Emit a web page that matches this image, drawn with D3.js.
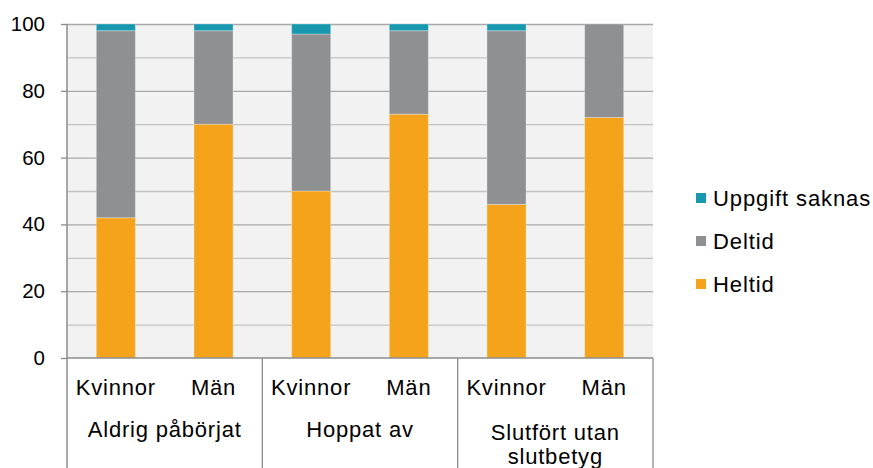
<!DOCTYPE html>
<html>
  <head>
    <meta charset="UTF-8">
    <script src="https://d3js.org/d3.v7.min.js"></script>
    <style>
      body { margin: 0; background: #fff; }
      svg text { font-family: "Liberation Sans", Arial, sans-serif; fill: #000; }
      .gridlines .domain { stroke: none; }
      .gridlines line { stroke: #c3c3c3; stroke-width: 1.3; }
      .gridlines line.major { stroke: #a9a9a9; }
      .y.axis .domain { stroke: none; }
      .y.axis line { stroke: #8c8c8c; stroke-width: 1.3; }
      .y.axis text { font-size: 20.5px; }
      .cat text { font-size: 22px; letter-spacing: 0.8px; }
      .legend text { font-size: 22px; letter-spacing: 0.9px; }
    </style>
    <title>Heltid / deltid</title>
  </head>
  <body>
    <svg id="chart" width="873" height="468"></svg>
    <script>
      // data (percent)
      const groups = ["Aldrig påbörjat", "Hoppat av", "Slutfört utan slutbetyg"];
      const groupLines = [["Aldrig påbörjat"], ["Hoppat av"], ["Slutfört utan", "slutbetyg"]];
      const genders = ["Kvinnor", "Män"];
      const heltid  = [42, 70, 50, 73, 46, 72];
      const deltid  = [56, 28, 47, 25, 52, 28];
      const uppgift = [2, 2, 3, 2, 2, 0];
      const seriesKeys = ["Heltid", "Deltid", "Uppgift saknas"];
      const seriesColors = ["#f5a31a", "#8f9092", "#1798ae"];
      const legendOrder = ["Uppgift saknas", "Deltid", "Heltid"];
      const yTicks = [0, 20, 40, 60, 80, 100];

      const svg = d3.select("svg#chart");
      const margin = { "top": 24, "right": 220, "bottom": 110, "left": 67 };
      const width = +svg.attr("width");
      const height = +svg.attr("height");
      const chartWidth = width - margin.left - margin.right;
      const chartHeight = height - margin.top - margin.bottom;

      let rows = [];
      groups.forEach((g, gi) => {
        genders.forEach((s, si) => {
          let i = gi * genders.length + si;
          rows.push({ group: g, gender: s, "Heltid": heltid[i], "Deltid": deltid[i], "Uppgift saknas": uppgift[i] });
        });
      });

      const yScale = d3.scaleLinear().domain([0, 100]).range([chartHeight, 0]);
      const groupScale = d3.scaleBand().domain(groups).range([0, chartWidth]);
      const genderScale = d3.scaleBand().domain(genders).range([0, groupScale.bandwidth()])
                            .paddingInner(0.6).paddingOuter(0.3);
      const colorScale = d3.scaleOrdinal().domain(seriesKeys).range(seriesColors);

      let plot = svg.append("g")
                    .attr("transform", "translate(" + margin.left + "," + margin.top + ")");

      plot.append("rect")
          .attr("width", chartWidth)
          .attr("height", chartHeight)
          .attr("fill", "#f2f2f2");

      // gridlines every 10, darker at the labelled ones
      let grid = d3.axisLeft(yScale).tickValues(d3.range(10, 101, 10)).tickFormat("").tickSize(-chartWidth);
      plot.append("g")
          .attr("class", "gridlines")
          .call(grid)
          .selectAll(".tick line")
          .classed("major", d => d % 20 == 0);

      // bars
      const stacked = d3.stack().keys(seriesKeys)(rows);
      plot.selectAll("g.series").data(stacked)
          .join("g")
          .attr("class", "series")
          .attr("fill", d => colorScale(d.key))
          .selectAll("rect")
          .data(d => d)
          .join("rect")
          .attr("x", d => groupScale(d.data.group) + genderScale(d.data.gender))
          .attr("width", genderScale.bandwidth())
          .attr("y", d => yScale(d[1]))
          .attr("height", d => yScale(d[0]) - yScale(d[1]))
          .attr("stroke", "#fff")
          .attr("stroke-opacity", 0.3);

      // y axis
      let y_axis = d3.axisLeft(yScale).tickValues(yTicks).tickSize(6).tickPadding(16);
      plot.append("g")
          .attr("class", "y axis")
          .call(y_axis);

      // axis lines
      plot.append("line")
          .attr("x1", 0).attr("x2", 0)
          .attr("y1", 0).attr("y2", height - margin.top)
          .attr("stroke", "#8c8c8c").attr("stroke-width", 1.5);
      plot.append("line")
          .attr("x1", 0).attr("x2", chartWidth)
          .attr("y1", chartHeight).attr("y2", chartHeight)
          .attr("stroke", "#8c8c8c").attr("stroke-width", 1.5);

      // category labels underneath
      let cat = plot.append("g").attr("class", "cat")
                    .attr("transform", "translate(0," + chartHeight + ")");

      cat.selectAll("line.sep").data(groups)
         .join("line")
         .attr("class", "sep")
         .attr("x1", d => groupScale(d) + groupScale.bandwidth())
         .attr("x2", d => groupScale(d) + groupScale.bandwidth())
         .attr("y1", 0).attr("y2", margin.bottom)
         .attr("stroke", "#8c8c8c").attr("stroke-width", 1.3);

      cat.selectAll("text.gender").data(rows)
         .join("text")
         .attr("class", "gender")
         .attr("text-anchor", "middle")
         .attr("x", d => groupScale(d.group) + genderScale(d.gender) + genderScale.bandwidth() / 2)
         .attr("y", 37)
         .text(d => d.gender);

      cat.selectAll("text.group").data(groups)
         .join("text")
         .attr("class", "group")
         .attr("text-anchor", "middle")
         .attr("x", d => groupScale(d) + groupScale.bandwidth() / 2)
         .attr("y", (d, i) => groupLines[i].length > 1 ? 82 : 79)
         .selectAll("tspan")
         .data((d, i) => groupLines[i])
         .join("tspan")
         .attr("x", function() { return this.parentNode.getAttribute("x"); })
         .attr("dy", (d, i) => i == 0 ? 0 : 24)
         .text(d => d);

      // legend
      let legend = svg.append("g").attr("class", "legend")
                      .attr("transform", "translate(696,198)");
      let items = legend.selectAll("g").data(legendOrder)
                        .join("g")
                        .attr("transform", (d, i) => "translate(0," + (i * 43) + ")");
      items.append("rect")
           .attr("y", -5)
           .attr("width", 10).attr("height", 10)
           .attr("fill", d => colorScale(d));
      items.append("text")
           .attr("x", 17)
           .attr("dy", "0.36em")
           .text(d => d);
    </script>
  </body>
</html>
